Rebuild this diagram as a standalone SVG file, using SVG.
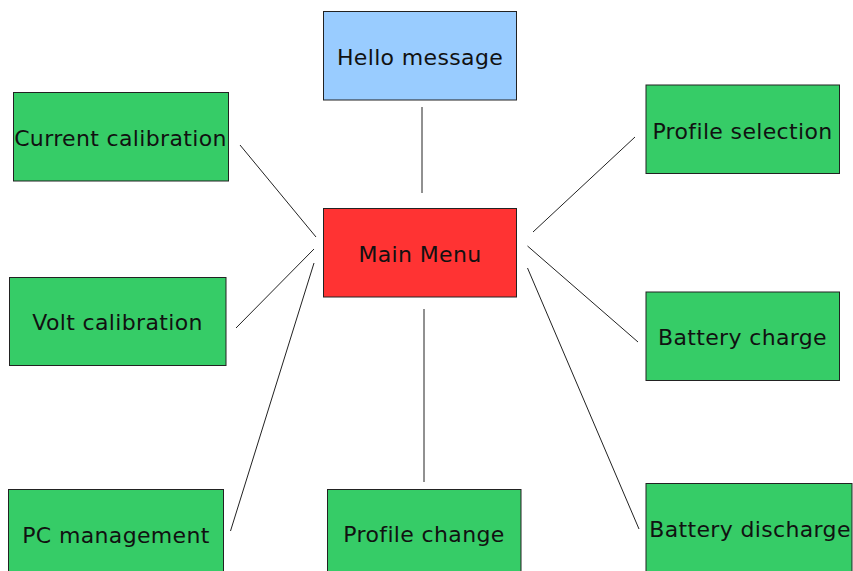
<svg xmlns="http://www.w3.org/2000/svg" width="853" height="571" viewBox="0 0 853 571">
<style>
rect{stroke:#222;stroke-width:1}
.g{fill:#36cc67}
text{font-family:"DejaVu Sans",Verdana,sans-serif;font-size:22px;letter-spacing:0.35px;fill:#111;text-anchor:middle}
#connectors line{stroke:#222;stroke-width:1}
</style>
<rect x="0" y="0" width="853" height="571" fill="#fff" style="stroke:none"/>
<g id="connectors">
<line x1="422" y1="107" x2="422" y2="193"/>
<line x1="240" y1="145" x2="316" y2="237"/>
<line x1="236" y1="328" x2="314" y2="249"/>
<line x1="230.5" y1="531" x2="314" y2="263"/>
<line x1="424" y1="309" x2="424" y2="482"/>
<line x1="533" y1="232" x2="635" y2="137"/>
<line x1="527.5" y1="246" x2="638" y2="342"/>
<line x1="527.5" y1="268" x2="639" y2="529"/>
</g>
<g id="hello"><rect x="323.5" y="11.5" width="193" height="88.5" fill="#99ccff"/><text x="420" y="65">Hello message</text></g>
<g id="main"><rect x="323.5" y="208.5" width="193" height="88.5" fill="#ff3333"/><text x="420" y="262">Main Menu</text></g>
<g id="current"><rect class="g" x="13.5" y="92.5" width="215" height="88.5"/><text x="120.5" y="146">Current calibration</text></g>
<g id="volt"><rect class="g" x="9.5" y="277.5" width="216.5" height="88"/><text x="117.5" y="330">Volt calibration</text></g>
<g id="pc"><rect class="g" x="8.5" y="489.5" width="215" height="88.5"/><text x="116" y="543">PC management</text></g>
<g id="profilechange"><rect class="g" x="327.5" y="489.5" width="193.5" height="88.5"/><text x="424" y="542">Profile change</text></g>
<g id="profilesel"><rect class="g" x="646" y="85" width="193.5" height="88.5"/><text x="742.5" y="139">Profile selection</text></g>
<g id="charge"><rect class="g" x="646" y="292" width="193.5" height="88.5"/><text x="742.5" y="345">Battery charge</text></g>
<g id="discharge"><rect class="g" x="646" y="483.5" width="206" height="90"/><text x="750" y="537">Battery discharge</text></g>
</svg>
